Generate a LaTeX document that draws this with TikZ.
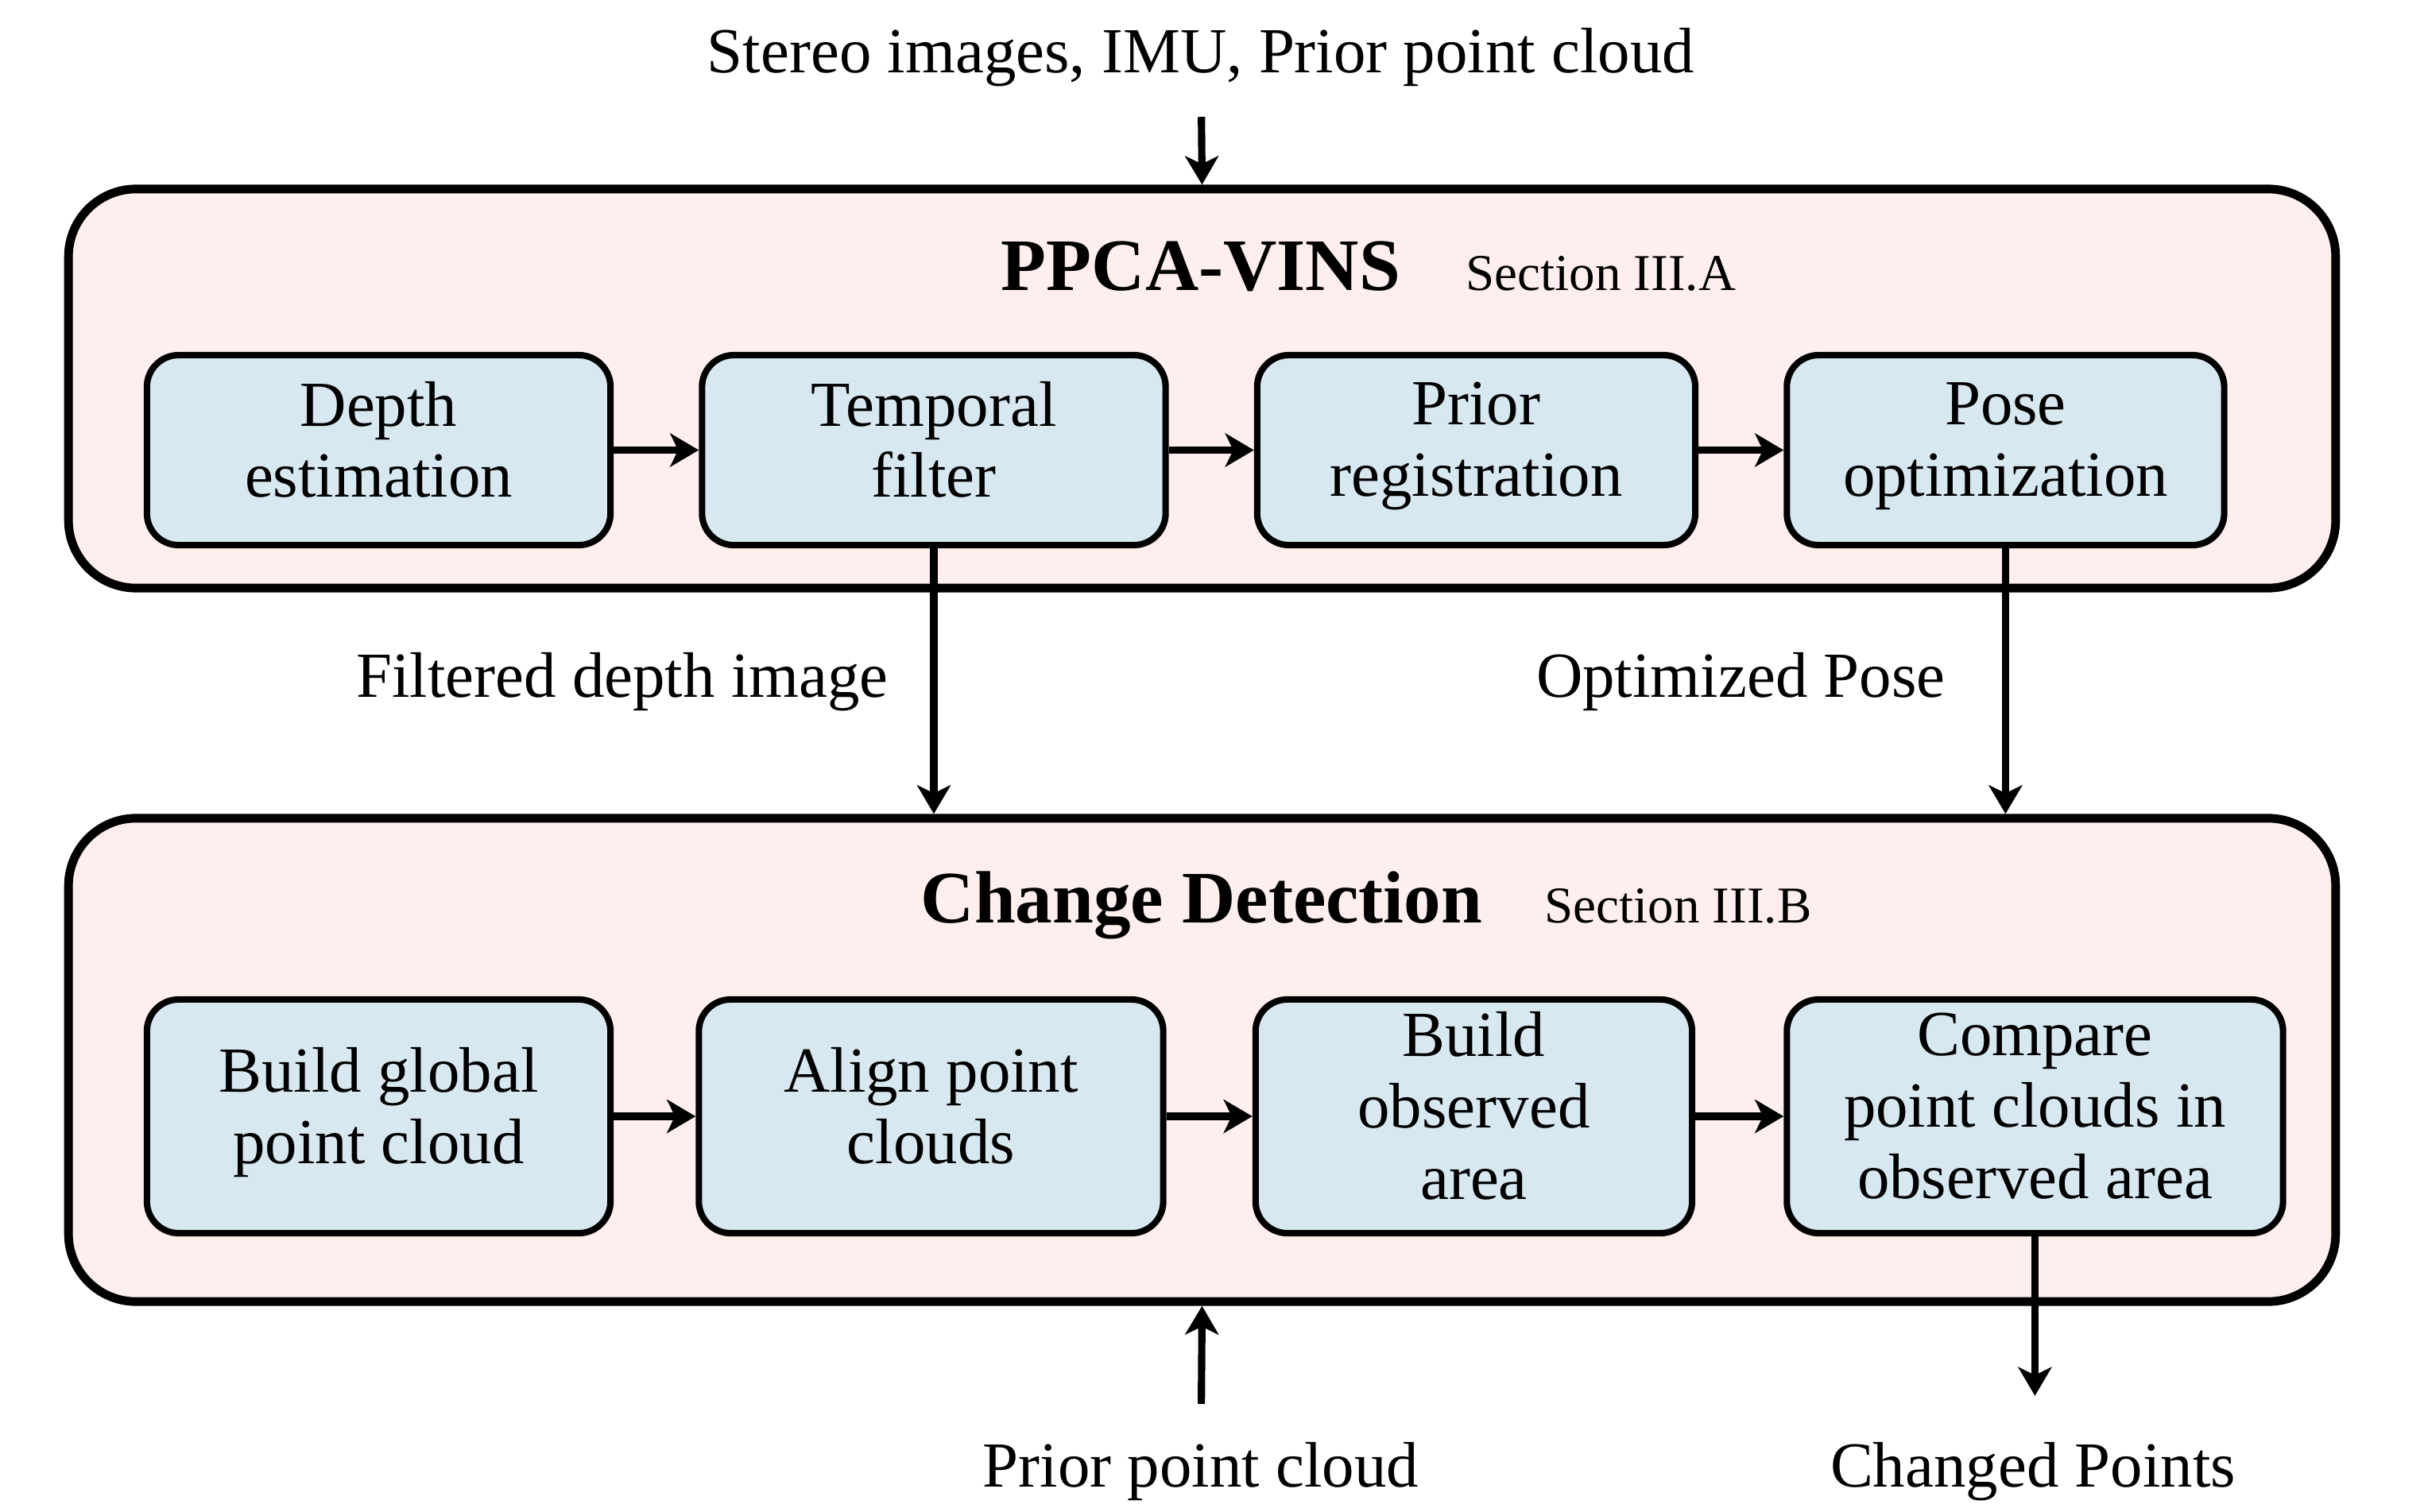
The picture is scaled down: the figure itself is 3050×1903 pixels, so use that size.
\documentclass[tikz,border=0pt]{standalone}
\usepackage{fontspec}
\setmainfont{Liberation Serif}
\usetikzlibrary{positioning,arrows.meta}

\definecolor{panelpink}{RGB}{255,238,238}
\definecolor{stepblue}{RGB}{215,232,240}

\tikzset{
	panel/.style={draw, line width=3.1pt, fill=panelpink, rounded corners=0.85cm, inner sep=0pt},
	stepbox/.style={draw, line width=2.3pt, fill=stepblue, rounded corners=0.4cm, align=center,
		font=\fontsize{23}{25.5}\selectfont, inner sep=0pt,
		execute at begin node={\rule{0pt}{26pt}}, execute at end node=\strut},
	flow/.style={line width=2.6pt, -{Stealth[length=0.36cm, width=0.42cm, inset=0.1cm]}},
	txt/.style={font=\fontsize{23}{25.5}\selectfont},
	ttl/.style={font=\fontsize{26.5}{30}\selectfont\bfseries, anchor=base},
	sec/.style={font=\fontsize{18.5}{20}\selectfont, anchor=base west},
}

\begin{document}
\begin{tikzpicture}[x=0.01cm, y=-0.01cm]
	\useasboundingbox (0,0) rectangle (3050,1903);
	%%%%%%%%%% panels
	\node[panel, minimum width=28.51cm, minimum height=5.02cm] (vins) at (1512.5,489) {};
	\node[panel, minimum width=28.51cm, minimum height=6.08cm] (cd) at (1512.5,1334) {};
	\node[ttl] (vinst) at (1511,366) {PPCA-VINS};
	\node[sec] (vinss) at (1832,366) {Section III.A};
	\node[ttl] (cdt) at (1512,1161) {Change Detection};
	\node[sec] (cds) at (1931,1161) {Section III.B};
	%%%%%%%%%% PPCA-VINS steps
	\node[stepbox, minimum width=5.83cm, minimum height=2.39cm] (d1) at (476.5,566.5) {Depth\\estimation};
	\node[stepbox, minimum width=5.83cm, minimum height=2.39cm, right =1.07cm of d1] (d2) {Temporal\\filter};
	\node[stepbox, minimum width=5.51cm, minimum height=2.39cm, right =1.07cm of d2] (d3) {Prior\\registration};
	\node[stepbox, minimum width=5.50cm, minimum height=2.39cm, right =1.07cm of d3] (d4) {Pose\\optimization};
	%%%%%%%%%% change detection steps
	\node[stepbox, minimum width=5.83cm, minimum height=2.94cm] (c1) at (476.5,1405) {Build global\\point cloud};
	\node[stepbox, minimum width=5.84cm, minimum height=2.94cm, right =1.03cm of c1] (c2) {Align point\\clouds};
	\node[stepbox, minimum width=5.49cm, minimum height=2.94cm, right =1.08cm of c2] (c3) {Build\\observed\\area};
	\node[stepbox, minimum width=6.24cm, minimum height=2.94cm, right =1.11cm of c3] (c4) {Compare\\point clouds in\\observed area};
	%%%%%%%%%% inputs and outputs
	\node[txt] (sens) at (1511,72) {Stereo images, IMU, Prior point cloud};
	\node[txt] (prior) at (1511,1852) {Prior point cloud};
	\node[txt] (chg) at (2558,1852) {Changed Points};
	\node[txt, anchor=east] (fdi) at (1130,858) {Filtered depth image};
	\node[txt, anchor=east] (opt) at (2460,858) {Optimized Pose};
	%%%%%%%%%% connectors
	\draw[flow, shorten <=0.26cm] (sens) -- (vins.north);
	\draw[flow] (d1) -- (d2);
	\draw[flow] (d2) -- (d3);
	\draw[flow] (d3) -- (d4);
	\draw[flow] (d2.south) -- (d2.south |- cd.north);
	\draw[flow] (d4.south) -- (d4.south |- cd.north);
	\draw[flow] (c1) -- (c2);
	\draw[flow] (c2) -- (c3);
	\draw[flow] (c3) -- (c4);
	\draw[flow, shorten <=0.36cm] (prior) -- (cd.south);
	\draw[flow, shorten >=0.46cm] (c4.south) -- (c4.south |- chg.north);
\end{tikzpicture}
\end{document}
